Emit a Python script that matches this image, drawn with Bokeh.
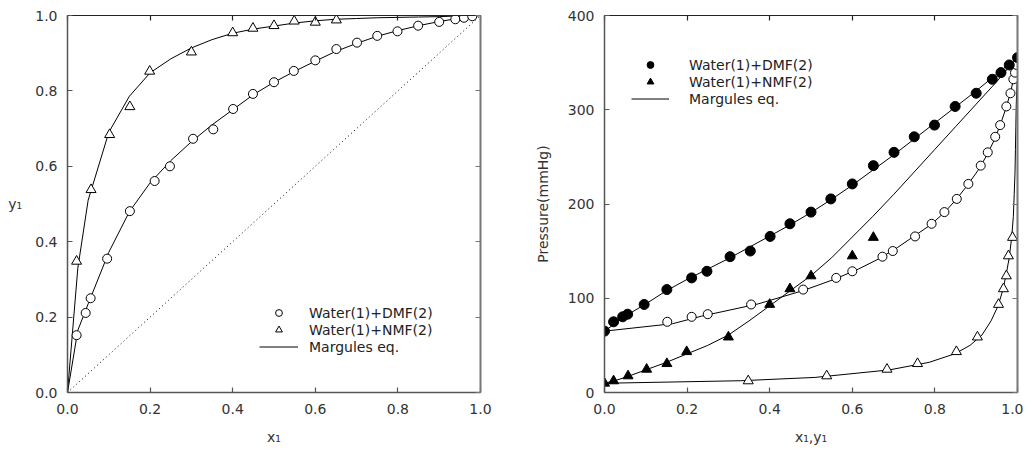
from bokeh.plotting import figure
from bokeh.models import Range1d, LinearAxis, Legend, LegendItem, FixedTicker, PrintfTickFormatter
from bokeh.layouts import row
from bokeh.embed import file_html
from bokeh.resources import INLINE

FONT = "DejaVu Sans"

# ---------------- data: y-x diagram (left) ----------------
x_dmf = [0.022, 0.044, 0.056, 0.096, 0.151, 0.211, 0.248, 0.304, 0.353, 0.401, 0.449, 0.500,
         0.548, 0.600, 0.651, 0.701, 0.750, 0.799, 0.849, 0.900, 0.939, 0.960, 0.980]
y_dmf = [0.152, 0.211, 0.250, 0.355, 0.481, 0.561, 0.600, 0.673, 0.698, 0.752, 0.792, 0.823,
         0.853, 0.881, 0.911, 0.928, 0.946, 0.958, 0.973, 0.983, 0.990, 0.994, 0.998]
x_nmf = [0.022, 0.057, 0.102, 0.151, 0.199, 0.300, 0.400, 0.449, 0.500, 0.549, 0.600, 0.651]
y_nmf = [0.348, 0.538, 0.684, 0.758, 0.852, 0.903, 0.954, 0.966, 0.973, 0.985, 0.982, 0.988]

# ---------------- data: P-x-y diagram (right) ----------------
P_dmf = [75.0, 80.3, 83.1, 93.4, 109.2, 121.6, 128.6, 144.1, 150.1, 165.6, 179.0, 191.4,
         205.4, 221.3, 240.7, 254.8, 271.3, 283.7, 303.5, 317.5, 332.3, 339.4, 347.5]
P_dmf_pure = 65.1
P_water_pure = 355.3
x_nmf_p = [0.022, 0.057, 0.102, 0.151, 0.199, 0.300, 0.400, 0.449, 0.500, 0.600, 0.651]
y_nmf_p = [0.348, 0.538, 0.684, 0.758, 0.852, 0.903, 0.954, 0.966, 0.973, 0.978, 0.988]
P_nmf = [12.3, 17.6, 24.6, 30.6, 43.3, 58.8, 93.4, 110.0, 123.7, 144.9, 164.5]
P_nmf_pure = 9.8

# ---------------- Margules eq. (calculated curves) ----------------
x_calc = [0.0, 0.025, 0.05, 0.1, 0.15, 0.2, 0.25, 0.3, 0.35, 0.4, 0.45, 0.5, 0.55, 0.6,
          0.65, 0.7, 0.75, 0.8, 0.85, 0.9, 0.95, 0.975, 1.0]
y_dmf_calc = [0.0, 0.165, 0.235, 0.372, 0.48, 0.556, 0.615, 0.665, 0.71, 0.75, 0.79, 0.823,
              0.852, 0.879, 0.905, 0.926, 0.945, 0.96, 0.973, 0.984, 0.993, 0.997, 1.0]
P_dmf_calc = [65.1, 73, 81, 94, 108, 120, 131, 142, 154, 166, 178, 191, 205, 220, 236, 252,
              269, 286, 303, 320, 338, 347, 355.3]
y_nmf_calc = [0.0, 0.33, 0.51, 0.69, 0.786, 0.848, 0.885, 0.914, 0.936, 0.953, 0.964, 0.972,
              0.980, 0.986, 0.990, 0.992, 0.994, 0.995, 0.996, 0.997, 0.999, 0.9995, 1.0]
P_nmf_calc = [9.8, 12.5, 16, 24, 32, 41, 50, 61, 76, 92, 108, 124, 143, 165, 187, 210, 234,
              258, 282, 306, 330, 343, 355.3]

diag = [0.0, 1.0]
ticks01 = [0, 0.2, 0.4, 0.6, 0.8, 1.0]
ticksP = [0, 100, 200, 300, 400]

legend_labels = ["Water(1)+DMF(2)", "Water(1)+NMF(2)", "Margules eq."]


def style_axis(ax, ticks, show_labels=True, color="#555555", width=1.5, fmt=None):
    ax.ticker = FixedTicker(ticks=ticks)
    ax.major_tick_in = 5
    ax.major_tick_out = 0
    ax.minor_tick_line_color = None
    ax.axis_line_color = color
    ax.axis_line_width = width
    ax.major_tick_line_color = color
    ax.major_tick_line_width = 1.2
    if show_labels:
        if fmt:
            ax.formatter = PrintfTickFormatter(format=fmt)
        ax.major_label_text_font = FONT
        ax.major_label_text_font_size = "14px"
        ax.major_label_text_color = "#333333"
        ax.major_label_standoff = 10
        ax.axis_label_text_font = FONT
        ax.axis_label_text_font_size = "14px"
        ax.axis_label_text_font_style = "normal"
        ax.axis_label_text_color = "#333333"
    else:
        ax.major_label_overrides = {t: "" for t in ticks}
        ax.major_label_text_font_size = "0px"
        ax.major_label_standoff = 0


def make_fig(xr, yr, xticks, yticks, bl, br, xfmt, yfmt):
    p = figure(frame_width=413, frame_height=377, x_range=xr, y_range=yr,
               output_backend="svg", toolbar_location=None,
               min_border_left=bl, min_border_right=br, min_border_top=15, min_border_bottom=51)
    p.grid.visible = False
    p.outline_line_color = None
    p.background_fill_color = "white"
    xb = p.xaxis[0]
    yl = p.yaxis[0]
    style_axis(xb, xticks, fmt=xfmt)
    style_axis(yl, yticks, fmt=yfmt)
    xb.major_label_standoff = 11
    top = LinearAxis()
    style_axis(top, xticks, show_labels=False, color="#222222", width=1.2)
    p.add_layout(top, "above")
    right = LinearAxis()
    style_axis(right, yticks, show_labels=False, color="#777777", width=2)
    p.add_layout(right, "right")
    return p, xb, yl


def make_legend(items, x, y, glyph_w, standoff):
    lg = Legend(items=items, location=(x, y), padding=0, margin=0, spacing=0,
                glyph_width=glyph_w, glyph_height=17, label_height=17,
                label_standoff=standoff, border_line_color=None,
                background_fill_alpha=0, label_text_font=FONT,
                label_text_font_size="14px", label_text_color="#222222")
    return lg


# ---------------- left figure ----------------
p1, xb1, yl1 = make_fig(Range1d(0, 1), Range1d(0, 1), ticks01, ticks01, 67, 46, "%.1f", "%.1f")
xb1.axis_label = "x₁"
xb1.axis_label_standoff = 12
yl1.axis_label = "y₁"
yl1.axis_label_orientation = "horizontal"
yl1.axis_label_standoff = 10

p1.line(diag, diag, line_color="black", line_width=1, line_dash="1 3")
l_dmf = p1.line(x_calc, y_dmf_calc, line_color="black", line_width=1)
p1.line(x_calc, y_nmf_calc, line_color="black", line_width=1)
s_dmf = p1.scatter(x_dmf, y_dmf, marker="circle", size=9, fill_color="white",
                   line_color="black", line_width=1)
s_nmf = p1.scatter(x_nmf, y_nmf, marker="triangle", size=10, fill_color="white",
                   line_color="black", line_width=1)
p1.add_layout(make_legend([LegendItem(label=legend_labels[0], renderers=[s_dmf]),
                           LegendItem(label=legend_labels[1], renderers=[s_nmf]),
                           LegendItem(label=legend_labels[2], renderers=[l_dmf])],
                          192, 37, 39, 11))

# ---------------- right figure ----------------
p2, xb2, yl2 = make_fig(Range1d(0, 1), Range1d(0, 400), ticks01, ticksP, 78, 6, "%.1f", None)
xb2.axis_label = "x₁,y₁"
xb2.axis_label_standoff = 12
yl2.axis_label = "Pressure(mmHg)"
yl2.axis_label_standoff = 14

r_line = p2.line(x_calc, P_dmf_calc, line_color="black", line_width=1)
p2.line(y_dmf_calc, P_dmf_calc, line_color="black", line_width=1)
p2.line(x_calc, P_nmf_calc, line_color="black", line_width=1)
p2.line(y_nmf_calc, P_nmf_calc, line_color="black", line_width=1)

p2.scatter(y_dmf, P_dmf, marker="circle", size=9, fill_color="white",
           line_color="black", line_width=1)
p2.scatter(y_nmf_p, P_nmf, marker="triangle", size=10, fill_color="white",
           line_color="black", line_width=1)
r_dmf = p2.scatter([0.0] + x_dmf + [1.0], [P_dmf_pure] + P_dmf + [P_water_pure],
                   marker="circle", size=10, fill_color="black", line_color="black")
r_nmf = p2.scatter([0.0] + x_nmf_p, [P_nmf_pure] + P_nmf, marker="triangle", size=10,
                   fill_color="black", line_color="black")
p2.add_layout(make_legend([LegendItem(label=legend_labels[0], renderers=[r_dmf]),
                           LegendItem(label=legend_labels[1], renderers=[r_nmf]),
                           LegendItem(label=legend_labels[2], renderers=[r_line])],
                          27, 285, 38, 20))

layout = row(p1, p2)
open("out.html", "w").write(file_html(layout, INLINE))
